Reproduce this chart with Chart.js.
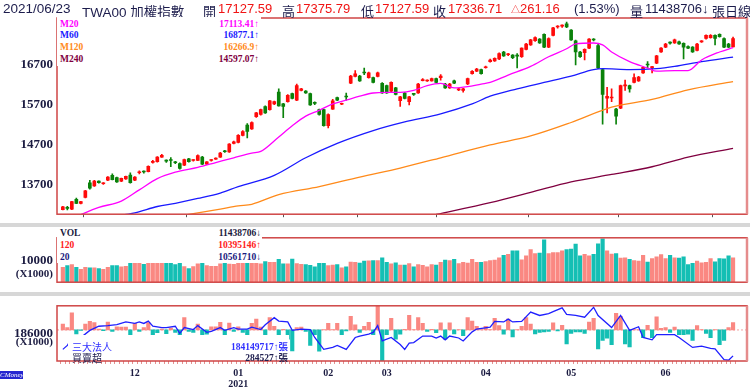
<!DOCTYPE html>
<html>
<head>
<meta charset="utf-8">
<script src="https://cdn.jsdelivr.net/npm/chart.js@4.4.1/dist/chart.umd.min.js"></script>
<style>
  html, body { margin: 0; padding: 0; background: #fff; }
  #wrap { position: relative; width: 750px; height: 391px; overflow: hidden; }
  canvas { position: absolute; left: 0; }
  .band { position: absolute; left: 0; width: 750px; background: #d7d7d7; }
  .hd { position: absolute; top: 1px; white-space: nowrap; line-height: 16px;
        font: 13px 'Liberation Sans', 'Noto Sans CJK TC', sans-serif; color: #1c1c4c; }
  .red { color: #f01414; }
  .box { position: absolute; background: #fff; z-index: 2; }
  .lg { position: absolute; z-index: 3; white-space: nowrap; line-height: 11px;
        font: bold 9.5px 'Liberation Serif', 'Noto Sans CJK TC', serif; }
  .r { text-align: right; }
  .unit { position: absolute; z-index: 3; right: 697px; text-align: right; line-height: 12px;
          font: bold 11px 'Liberation Serif', serif; color: #1a1a40; }
  .cjk { font: 10px 'Noto Sans CJK TC', sans-serif; }
  #logo { position: absolute; left: 0; top: 371px; width: 23px; height: 8px; background: #2424d0;
          color: #fff; font: italic 7px 'Liberation Serif', serif; line-height: 8px; text-align: center; }
</style>
</head>
<body>
<div id="wrap">
  <div class="band" style="top:223px;height:4px"></div>
  <div class="band" style="top:292px;height:4px"></div>

  <canvas id="price" width="750" height="226" style="top:0"></canvas>
  <canvas id="vol" width="750" height="68" style="top:226px"></canvas>
  <canvas id="flow" width="750" height="97" style="top:294px"></canvas>

  <span class="hd" style="left:3px;font-size:13.5px">2021/06/23</span>
  <span class="hd" style="left:82px;font-size:13.5px">TWA00 加權指數</span>
  <span class="hd" style="left:203px">開</span>
  <span class="hd red" style="left:218px">17127.59</span>
  <span class="hd" style="left:282px">高</span>
  <span class="hd red" style="left:296px">17375.79</span>
  <span class="hd" style="left:361px">低</span>
  <span class="hd red" style="left:375px">17127.59</span>
  <span class="hd" style="left:433px">收</span>
  <span class="hd red" style="left:448px">17336.71</span>
  <span class="hd red" style="left:511px"><span style="font-size:9px">△</span>261.16</span>
  <span class="hd" style="left:574px">(1.53%)</span>
  <span class="hd" style="left:630px">量</span>
  <span class="hd" style="left:645px">11438706↓</span>
  <span class="hd" style="left:712px">張日線</span>

  <div class="box" style="left:57px;top:17px;width:204px;height:49px"></div>
  <div class="lg" style="left:60px;top:18.5px;color:#ff00ff">M20</div>
  <div class="lg r" style="right:491px;top:18.5px;color:#ff00ff">17113.41↑</div>
  <div class="lg" style="left:60px;top:30px;color:#1a1aff">M60</div>
  <div class="lg r" style="right:491px;top:30px;color:#1a1aff">16877.1↑</div>
  <div class="lg" style="left:60px;top:42px;color:#ff8a1a">M120</div>
  <div class="lg r" style="right:491px;top:42px;color:#ff8a1a">16266.9↑</div>
  <div class="lg" style="left:60px;top:54px;color:#800040">M240</div>
  <div class="lg r" style="right:491px;top:54px;color:#800040">14597.07↑</div>

  <div class="box" style="left:57px;top:227px;width:205px;height:36px"></div>
  <div class="lg" style="left:60px;top:228px;color:#1a1a40">VOL</div>
  <div class="lg r" style="right:489px;top:228px;color:#1a1a40">11438706↓</div>
  <div class="lg" style="left:60px;top:240px;color:#ff2020">120</div>
  <div class="lg r" style="right:489px;top:240px;color:#ff2020">10395146↑</div>
  <div class="lg" style="left:60px;top:252px;color:#1a1a80">20</div>
  <div class="lg r" style="right:489px;top:252px;color:#1a1a80">10561710↓</div>

  <div class="box" style="left:68px;top:335px;width:221px;height:25px"></div>
  <div class="lg cjk" style="left:72px;top:338.5px;color:#3030ff">三大法人</div>
  <div class="lg r" style="right:462px;top:338.5px;color:#3030ff">184149717↑張</div>
  <div class="lg cjk" style="left:72px;top:350px;color:#202050">買賣超</div>
  <div class="lg r" style="right:462px;top:350px;color:#202050">284527↑張</div>

  <div class="unit" style="top:267px">(X1000)</div>
  <div class="unit" style="top:335px">(X1000)</div>
  <div id="logo">CMoney</div>
</div>

<script>
// daily candles, 2020/11/09 .. 2021/06/23
const OPEN = [13068,13110,13084,13324,13228,13372,13740,13660,13780,13715,
  13804,13924,13868,13780,13836,13932,13804,13990,14018,14020,
  14250,14268,14380,14290,14305,14260,14220,14180,14340,14295,
  14300,14380,14204,14295,14330,14380,14535,14508,14724,14748,
  14924,15180,15084,15388,15444,15644,15564,15708,16004,15708,
  15764,15964,15804,16044,16028,15964,15730,15564,15564,15164,
  15580,15868,15700,15890,16228,16396,16404,16490,16364,16364,
  16396,16220,16164,16028,16108,15788,15980,15764,15955,15980,
  16290,16280,16284,16340,16360,16204,16108,16284,16060,16044,
  16204,16460,16524,16564,16610,16764,16780,16828,17004,16935,
  16924,16920,16884,17068,17180,17284,17324,17444,17124,17420,
  17628,17650,17708,17548,17284,17004,16988,17100,17312,17164,
  16564,15850,15855,15580,15604,16160,16164,16244,16284,16484,
  16690,16615,16724,17004,17124,17235,17228,17260,17220,17140,
  17124,17044,17255,17340,17364,17420,17444,17340,17204,17127.59];
const HIGH = [13150,13150,13280,13360,13280,13550,13800,13800,13790,13745,
  13895,13965,13880,13860,13910,13990,13895,14040,14040,14160,
  14300,14395,14450,14310,14370,14275,14240,14330,14350,14320,
  14440,14400,14270,14320,14365,14500,14550,14720,14780,14940,
  15040,15220,15260,15500,15580,15660,15800,15780,16084,15720,
  15940,15980,16204,16100,16040,15980,15760,15580,15580,15460,
  15820,15880,15730,15980,16420,16540,16420,16604,16500,16380,
  16500,16240,16180,16260,16120,15900,15995,15900,15970,16220,
  16340,16310,16355,16355,16440,16220,16220,16300,16100,16100,
  16355,16540,16595,16580,16650,16830,16860,16980,17020,16970,
  16940,16964,17110,17220,17320,17380,17340,17460,17355,17620,
  17665,17680,17748,17565,17300,17020,17085,17340,17340,17204,
  16580,16124,16084,15600,16180,16300,16180,16460,16395,16635,
  16764,16644,16920,17115,17220,17260,17325,17275,17235,17155,
  17140,17220,17290,17435,17440,17435,17460,17355,17220,17375.79];
const LOW = [13060,13060,13070,13220,13215,13360,13580,13650,13730,13700,
  13795,13810,13750,13770,13825,13730,13795,13960,13980,14010,
  14230,14255,14370,14250,14140,14220,14080,14170,14255,14280,
  14290,14190,14190,14280,14320,14370,14500,14500,14710,14735,
  14910,14860,15070,15370,15430,15470,15550,15690,15650,15364,
  15750,15830,15790,16030,15970,15670,15690,15430,15150,15110,
  15570,15790,15690,15800,16215,16380,16270,16440,16350,16230,
  16380,15970,15970,16010,15935,15644,15830,15684,15920,15970,
  16280,16270,16275,16230,16300,16095,16095,16215,16040,16000,
  16190,16450,16510,16450,16600,16750,16770,16815,16895,16910,
  16840,16604,16870,17055,17165,17270,17215,17110,17110,17405,
  17600,17620,17610,17290,16684,16870,16804,17085,17280,16590,
  15204,15484,15764,15204,15590,16044,16004,16230,16270,16470,
  16604,16484,16710,16990,17110,17200,17215,17190,16828,17085,
  16990,17030,17240,17325,17350,17180,17375,17110,17110,17127.59];
const CLOSE = [13140,13100,13268,13228,13268,13540,13604,13780,13740,13730,
  13884,13820,13764,13852,13900,13740,13884,14000,14008,14148,
  14275,14380,14428,14280,14295,14240,14100,14316,14268,14305,
  14420,14204,14260,14305,14350,14484,14515,14708,14764,14924,
  15020,15020,15244,15484,15564,15484,15788,15764,15660,15644,
  15924,15844,16164,16084,15980,15684,15720,15444,15164,15444,
  15788,15804,15715,15880,16404,16460,16284,16480,16484,16244,
  16484,15980,15980,16244,15948,15884,15844,15884,15945,16204,
  16305,16290,16340,16244,16400,16108,16204,16228,16084,16084,
  16340,16524,16580,16460,16625,16804,16844,16964,16908,16945,
  16860,16900,17100,17204,17308,17364,17228,17124,17340,17604,
  17645,17662,17628,17308,17004,16884,17068,17324,17302,16604,
  15948,15900,15865,15404,16164,16170,16084,16364,16380,16620,
  16680,16625,16908,17100,17204,17225,17308,17204,17124,17100,
  17004,17204,17265,17420,17420,17340,17388,17124,17124,17336.71];

// moving averages, read at the marked days
const MA20_IDX = [3,8,13,17,21,25,30,34,38,42,44,48,51,54,57,60,63,66,69,72,75,78,81,84,87,90,93,95,99,104,108,112,114,118,120,122,126,130,132,136,139,142,146,149];
const MA20 = [12900,13124,13284,13564,13844,14004,14124,14244,14364,14480,14524,14884,15164,15404,15548,15708,15804,15900,15980,15996,15996,16044,16164,16220,16108,16140,16204,16244,16428,16644,16884,17084,17204,17228,17180,17004,16764,16604,16524,16540,16540,16804,17004,17113];
const MA60_IDX = [11,16,21,25,30,35,39,47,54,61,69,76,84,91,95,101,107,113,118,120,126,132,136,142,149];
const MA60 = [12900,12988,13148,13228,13348,13484,13644,13924,14364,14724,15044,15260,15460,15708,15900,16084,16244,16404,16564,16588,16564,16588,16644,16764,16877];
const MA120_IDX = [27,35,39,42,48,57,66,75,84,95,104,113,122,131,139,149];
const MA120 = [12930,13084,13164,13204,13444,13644,13884,14108,14364,14684,14908,15244,15628,15820,16060,16267];
const MA240_IDX = [83,95,104,113,122,131,139,149];
const MA240 = [12950,13244,13500,13764,13948,14140,14380,14597];

// volume (X1000)
const VOLUME = [7000,7870,8300,7000,6100,7000,6800,6800,6400,6100,
  7000,7870,7870,7200,7500,9600,9400,9500,8400,10200,
  9800,10600,9900,10300,9200,8300,9100,7300,6400,7300,
  8600,9300,7870,7500,7500,8600,9000,8500,8400,10500,
  11200,12400,10800,11500,8600,9700,9400,9400,10800,8600,
  8600,10900,8800,8400,8300,7970,7200,8900,8900,7870,
  8100,8300,6800,7200,9500,9400,9000,10000,10100,10200,
  10200,11500,9400,8600,9100,8100,8100,8800,7200,8300,
  7900,7200,8300,8100,9400,10400,10200,10800,8800,9400,
  9000,10800,9400,9400,9700,10200,10400,11500,12700,13100,
  14800,14800,10500,12400,15300,13500,13700,19900,13500,14000,
  13900,14800,15400,15600,18000,12400,13100,12400,13100,18100,
  20400,14800,13200,13500,11300,11500,10800,10200,10000,12700,
  9500,11100,11900,13000,11100,12600,11500,11300,11900,8300,
  8900,9900,9100,9400,11100,9600,11100,11000,12400,11438.706];

// 買賣超 (張)
const NET = [229000,87000,654000,-153000,-20000,229000,327000,283000,30000,-30000,
  305000,-55000,120000,109000,109000,-305000,250000,-55000,87000,283000,
  -403000,-109000,30000,-142000,76000,-98000,-403000,469000,-55000,-98000,
  229000,-218000,-164000,120000,120000,294000,-207000,262000,-55000,120000,
  -98000,-229000,250000,414000,109000,-207000,469000,142000,-240000,20000,
  -349000,-807000,87000,109000,-55000,-589000,-185000,-818000,10000,250000,
  15000,250000,-185000,-33000,523000,196000,-98000,142000,294000,-185000,
  950000,-1200000,-185000,447000,-349000,-164000,20000,556000,15000,469000,
  250000,-55000,20000,-109000,272000,-349000,272000,-153000,15000,-218000,
  469000,338000,142000,10000,142000,15000,447000,163000,-164000,414000,
  -272000,10000,142000,469000,229000,-153000,-98000,-76000,-55000,272000,
  -33000,174000,-534000,-131000,-76000,-76000,-131000,305000,447000,-730000,
  -403000,-316000,-567000,632000,523000,-534000,-654000,10000,15000,-294000,
  174000,-294000,501000,65000,87000,-98000,109000,-185000,-185000,-164000,
  -403000,163000,10000,-131000,-294000,10000,-567000,-403000,87000,284527];

// 三大法人 (X1000)
const FLOW_IDX = [0,1,2,4,6,8,10,12,14,16,17,18,19,20,22,23,25,26,27,29,30,32,33,35,36,38,39,41,42,44,45,47,48,50,51,53,55,56,58,60,61,63,65,66,68,69,70,71,73,75,76,77,78,80,82,83,84,85,86,88,89,91,92,95,96,98,99,100,102,104,106,108,109,111,112,114,116,118,119,122,124,126,128,129,131,132,136,137,140,142,144,145,147,148,149];
const FLOW = [184680,185000,185650,185650,186230,186570,186620,186710,186920,186800,186920,186800,186990,186570,186460,186460,186570,185990,186460,186300,186620,186070,186160,186460,186230,186460,186340,186340,186500,186300,186690,187270,186990,186920,186230,186340,186300,185650,184680,184840,185000,184680,185650,185770,185930,186070,186620,185370,185650,185070,184680,185190,185230,185770,185770,185610,185770,185460,185770,185610,185370,186110,186340,186500,186970,186920,187150,186920,186970,187730,187450,187610,187770,188070,187540,187450,187310,188120,187450,186460,187450,186230,186530,185650,185460,185880,185880,185650,184840,184950,184770,184720,183840,183790,184150];

// axis ticks
const MONTH_IDX = [16, 39, 59, 72, 94, 113, 134];
const MONTH_LABELS = ['12', '01', '02', '03', '04', '05', '06'];
const YEAR_IDX = 39;
const YEAR_LABEL = '2021';
const PRICE_TICKS = [13700, 14700, 15700, 16700];
const VOL_TICKS = [10000];
const FLOW_TICKS = [186000];

const X_MIN = -1.3, X_MAX = 152.1;
const UP = '#ff0a0a', DOWN = '#0a820a';
const UP_BAR = '#fa8882', DOWN_BAR = '#14bfb4';
const NAVY = '#1a1a40';

Chart.defaults.font.family = "'Liberation Serif', serif";
Chart.defaults.animation = false;
Chart.defaults.plugins.legend.display = false;
Chart.defaults.plugins.tooltip.enabled = false;

const IDX = OPEN.map((_, i) => i);
const isUp = i => CLOSE[i] >= OPEN[i];
const pts = (xs, ys) => xs.map((x, k) => ({ x: x, y: ys[k] }));
const fixTicks = list => s => { s.ticks = list.map(v => ({ value: v })); };

// white panel with red frame
const panel = {
    id: 'panel',
    beforeDraw(chart) {
        const a = chart.chartArea, c = chart.ctx;
        c.save();
        c.fillStyle = '#fff';
        c.fillRect(a.left, a.top, a.width, a.height);
        c.restore();
    },
    afterDraw(chart) {
        const a = chart.chartArea, c = chart.ctx;
        c.save();
        c.strokeStyle = '#cf4646';
        c.lineWidth = 1.5;
        c.strokeRect(a.left, a.top, a.width, a.height);
        c.strokeStyle = '#e58c8c';
        c.lineWidth = 2.5;
        c.beginPath();
        c.moveTo(a.right, a.top);
        c.lineTo(a.right, a.bottom);
        c.stroke();
        c.restore();
    },
};

// dashed zero line for the net buy/sell bars
const zeroLine = {
    id: 'zeroLine',
    beforeDatasetsDraw(chart) {
        const s = chart.scales.yb, a = chart.chartArea, c = chart.ctx;
        if (!s) return;
        const y = s.getPixelForValue(0);
        c.save();
        c.strokeStyle = '#f0a0a0';
        c.lineWidth = 1;
        c.setLineDash([2, 2]);
        c.beginPath();
        c.moveTo(a.left, y);
        c.lineTo(a.right, y);
        c.stroke();
        c.restore();
    },
};

function maLine(xs, ys, color) {
    return {
        type: 'line',
        data: pts(xs, ys),
        borderColor: color,
        borderWidth: 1.3,
        pointRadius: 0,
        cubicInterpolationMode: 'monotone',
        order: 0,
    };
}

function dayAxis(extra) {
    return Object.assign({
        type: 'linear',
        min: X_MIN,
        max: X_MAX,
        offset: false,
    }, extra);
}

function leftAxis(min, max, ticks) {
    return {
        type: 'linear',
        position: 'left',
        min: min,
        max: max,
        afterBuildTicks: fixTicks(ticks),
        afterFit: s => { s.width = 57; },
        ticks: { font: { size: 13, weight: 'bold' }, color: NAVY, padding: 4, callback: v => String(v) },
        grid: { display: false, drawTicks: false },
        border: { display: false },
    };
}

new Chart(document.getElementById('price'), {
    data: {
        datasets: [
            maLine(MA20_IDX, MA20, '#ff00ff'),
            maLine(MA60_IDX, MA60, '#1a1aff'),
            maLine(MA120_IDX, MA120, '#ff8a1a'),
            maLine(MA240_IDX, MA240, '#800040'),
            {
                type: 'bar',
                data: IDX.map(i => ({ x: i, y: [OPEN[i], CLOSE[i]] })),
                backgroundColor: IDX.map(i => isUp(i) ? UP : DOWN),
                barThickness: 3,
                minBarLength: 1,
                grouped: false,
                order: 1,
            },
            {
                type: 'bar',
                data: IDX.map(i => ({ x: i, y: [LOW[i], HIGH[i]] })),
                backgroundColor: IDX.map(i => isUp(i) ? UP : DOWN),
                barThickness: 1,
                grouped: false,
                order: 2,
            },
        ],
    },
    options: {
        responsive: false,
        layout: { padding: { top: 18, right: 3, bottom: 0, left: 0 } },
        scales: {
            x: dayAxis({
                afterBuildTicks: fixTicks(MONTH_IDX),
                afterFit: s => { s.height = 4; },
                ticks: { display: false },
                grid: { drawOnChartArea: false, tickLength: 3, color: '#555' },
                border: { display: false },
            }),
            y: leftAxis(12956, 17852, PRICE_TICKS),
        },
    },
    plugins: [panel],
});

new Chart(document.getElementById('vol'), {
    type: 'bar',
    data: {
        datasets: [{
            data: IDX.map(i => ({ x: i, y: VOLUME[i] })),
            backgroundColor: IDX.map(i => isUp(i) ? UP_BAR : DOWN_BAR),
            barThickness: 3.5,
            grouped: false,
        }],
    },
    options: {
        responsive: false,
        layout: { padding: { top: 1, right: 3, bottom: 2, left: 0 } },
        scales: {
            x: dayAxis({ display: false }),
            y: leftAxis(0, 20900, VOL_TICKS),
        },
    },
    plugins: [panel],
});

new Chart(document.getElementById('flow'), {
    data: {
        datasets: [
            {
                type: 'line',
                data: pts(FLOW_IDX, FLOW),
                yAxisID: 'yl',
                borderColor: '#1f1fff',
                borderWidth: 1.3,
                pointRadius: 0,
                order: 0,
            },
            {
                type: 'bar',
                data: IDX.map(i => ({ x: i, y: NET[i] })),
                yAxisID: 'yb',
                backgroundColor: NET.map(v => v >= 0 ? UP_BAR : DOWN_BAR),
                barThickness: 3.5,
                grouped: false,
                order: 1,
            },
        ],
    },
    options: {
        responsive: false,
        layout: { padding: { top: 2, right: 3, bottom: 0, left: 0 } },
        scales: {
            x: dayAxis({
                afterBuildTicks: fixTicks(IDX),
                afterFit: s => { s.height = 30; },
                ticks: {
                    autoSkip: false,
                    maxRotation: 0,
                    minRotation: 0,
                    padding: 4,
                    font: { size: 10, weight: 'bold', lineHeight: 1.1 },
                    color: NAVY,
                    callback: v => {
                        const k = MONTH_IDX.indexOf(v);
                        if (k < 0) return '';
                        return v === YEAR_IDX ? [MONTH_LABELS[k], YEAR_LABEL] : MONTH_LABELS[k];
                    },
                },
                grid: { drawOnChartArea: false, tickLength: 3, color: '#e49090' },
                border: { display: false },
            }),
            yl: leftAxis(183730, 188240, FLOW_TICKS),
            yb: { type: 'linear', display: false, min: -1190000, max: 925000 },
        },
    },
    plugins: [panel, zeroLine],
});
</script>
</body>
</html>
